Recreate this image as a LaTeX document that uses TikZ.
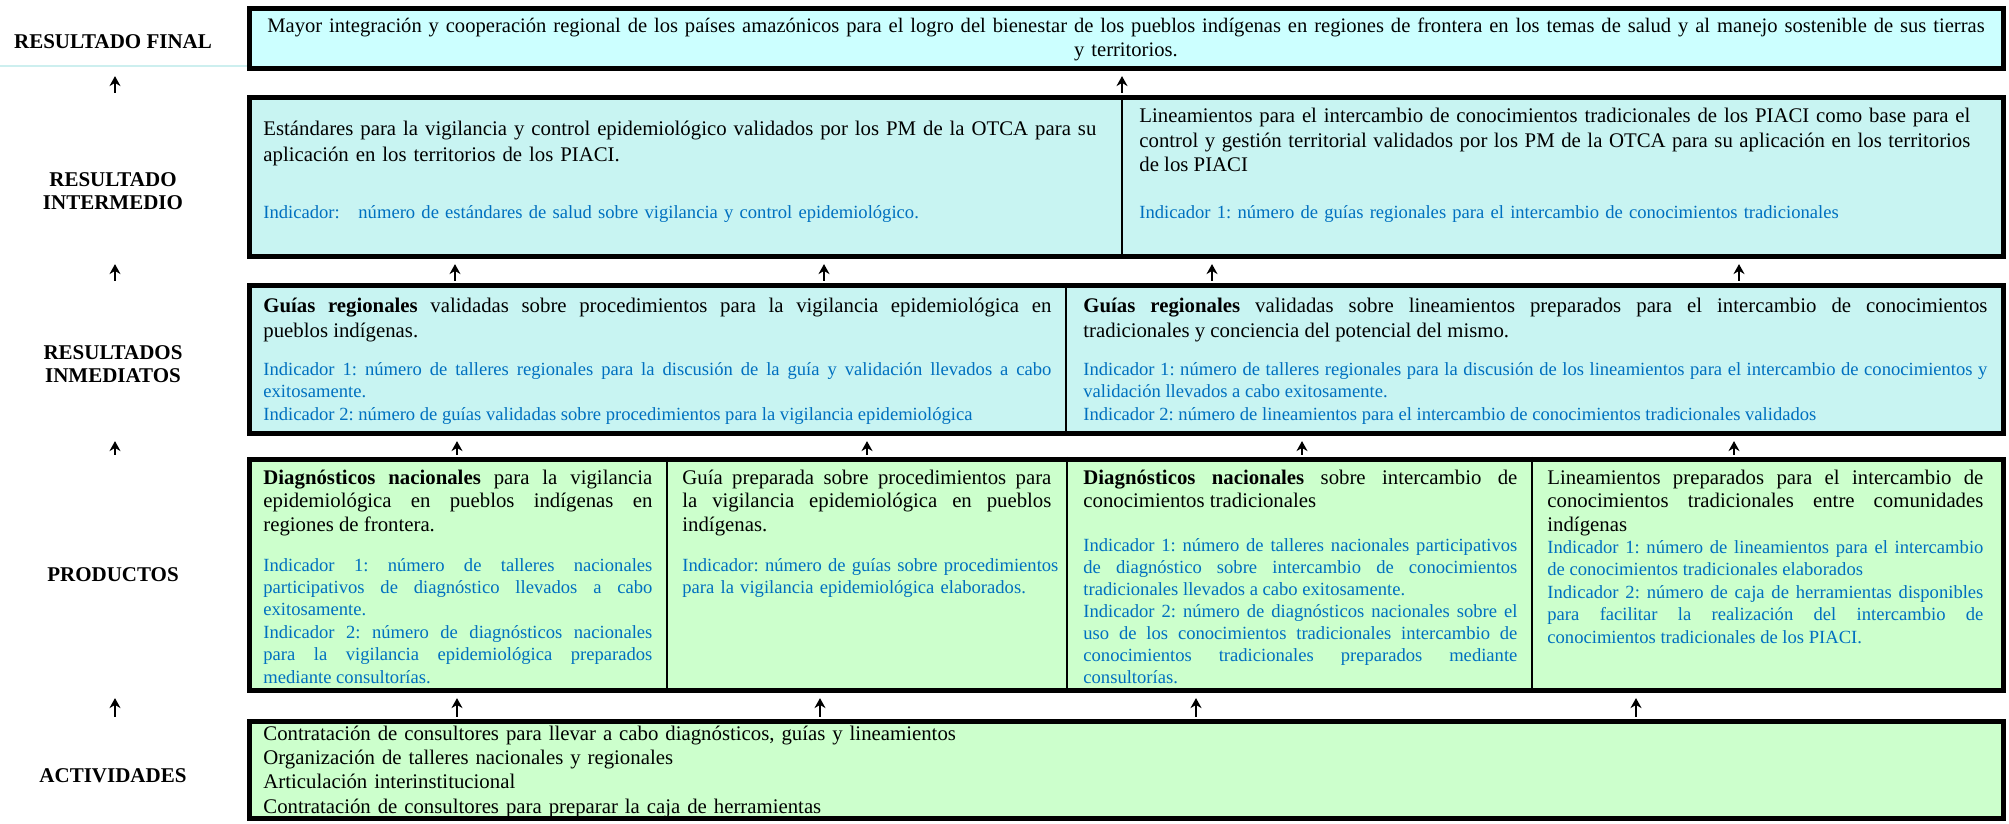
\documentclass[tikz,border=0pt]{standalone}
\usepackage{fontspec}
\setmainfont{Liberation Serif}
\usetikzlibrary{fit,arrows.meta}

\definecolor{finalcyan}{HTML}{CCFFFF}
\definecolor{resultcyan}{HTML}{C8F4F2}
\definecolor{prodgreen}{HTML}{CCFFCC}
\definecolor{indblue}{HTML}{0070C0}
\definecolor{faintcyan}{HTML}{CDEFEF}

\newcommand{\loosecell}{\frenchspacing\tolerance=10000\hyphenpenalty=10000\hbadness=10000}

\begin{document}
\begin{tikzpicture}[
    x = 0.5pt, y = -0.5pt,
    frame/.style = {
        draw,
        line width = 2.6pt,
        inner sep = 0pt
    },
    finalbox/.style = {frame, fill = finalcyan},
    resultbox/.style = {frame, fill = resultcyan},
    prodbox/.style = {frame, fill = prodgreen},
    divider/.style = {line width = 1.3pt},
    thindivider/.style = {line width = 1pt},
    arrow/.style = {-{Stealth[length = 5pt, width = 5.5pt]}, line width = 1.3pt,
        shorten < = 1pt, shorten > = 2.5pt},
    level/.style = {font = \fontsize{10.5}{11.5}\selectfont\bfseries, align = center},
    maintext/.style = {anchor = base west, inner sep = 0pt, align = justify,
        font = \fontsize{10.4}{12.3}\selectfont\loosecell},
    indtext/.style = {maintext, text = indblue,
        font = \fontsize{9.3}{11.2}\selectfont\loosecell}
]
\useasboundingbox (0,0) rectangle (2009,824);

% Level boxes
\node[finalbox, fit = {(249.5,8.5) (2003.5,68.5)}] (fin) {};
\node[resultbox, fit = {(249.5,97.5) (2003.5,256.5)}] (int) {};
\node[resultbox, fit = {(249.5,285.5) (2003.5,433.5)}] (inm) {};
\node[prodbox, fit = {(249.5,459.5) (2003.5,690.5)}] (prod) {};
\node[prodbox, fit = {(249.5,721.5) (2003.5,818.5)}] (act) {};

% Cell dividers
\draw[thindivider] (1122,0 |- int.north) -- (1122,0 |- int.south);
\draw[divider] (1066,0 |- inm.north) -- (1066,0 |- inm.south);
\draw[divider] (667,0 |- prod.north) -- (667,0 |- prod.south);
\draw[divider] (1067,0 |- prod.north) -- (1067,0 |- prod.south);
\draw[divider] (1532,0 |- prod.north) -- (1532,0 |- prod.south);

% Level labels
\draw[faintcyan, line width = 0.6pt] (0,66) -- (fin.west |- 0,66);
\node[level] (lbl-fin) at (113,42) {RESULTADO FINAL};
\node[level] (lbl-int) at (113,191) {RESULTADO\\INTERMEDIO};
\node[level] (lbl-inm) at (113,364) {RESULTADOS\\INMEDIATOS};
\node[level] (lbl-prod) at (113,575) {PRODUCTOS};
\node[level] (lbl-act) at (113,776) {ACTIVIDADES};

% Final result
\node[maintext, anchor = base, align = center, text width = 880pt,
    font = \fontsize{10.3}{12}\selectfont\frenchspacing] (fin-txt) at (1126,33) {Mayor integración y cooperación regional de los países amazónicos para el logro del bienestar de los pueblos indígenas en regiones de frontera en los temas de salud y al manejo sostenible de sus tierras\\y territorios.};

% Intermediate results
\node[maintext, align = left, text width = 430pt,
    font = \fontsize{10.4}{13}\selectfont\loosecell] (int1-txt) at (263,136) {Estándares para la vigilancia y control epidemiológico validados por los PM de la OTCA para su\\aplicación en los territorios de los PIACI.};
\node[indtext, align = left, text width = 430pt] (int1-ind) at (263,219) {Indicador:\ \ \ número de estándares de salud sobre vigilancia y control epidemiológico.};
\node[maintext, text width = 415.5pt,
    font = \fontsize{10.4}{12.25}\selectfont\loosecell] (int2-txt) at (1139,123) {Lineamientos para el intercambio de conocimientos tradicionales de los PIACI como base para el\linebreak control y gestión territorial validados por los PM de la OTCA para su aplicación en los territorios\linebreak de los PIACI};
\node[indtext, align = left, text width = 430pt] (int2-ind) at (1139,219) {Indicador 1: número de guías regionales para el intercambio de conocimientos tradicionales};

% Immediate results
\node[maintext, text width = 394pt,
    font = \fontsize{10.4}{12.5}\selectfont\loosecell] (inm1-txt) at (263,312) {\textbf{Guías regionales} validadas sobre procedimientos para la vigilancia epidemiológica en\linebreak pueblos indígenas.};
\node[indtext, text width = 394pt,
    font = \fontsize{9.3}{11.25}\selectfont\loosecell] (inm1-ind) at (263,375) {Indicador 1: número de talleres regionales para la discusión de la guía y validación llevados a cabo\linebreak exitosamente.\\Indicador 2: número de guías validadas sobre procedimientos para la vigilancia epidemiológica};
\node[maintext, text width = 452pt,
    font = \fontsize{10.4}{12.5}\selectfont\loosecell] (inm2-txt) at (1083,312) {\textbf{Guías regionales} validadas sobre lineamientos preparados para el intercambio de conocimientos\linebreak tradicionales y conciencia del potencial del mismo.};
\node[indtext, text width = 452pt,
    font = \fontsize{9.3}{11.25}\selectfont\loosecell] (inm2-ind) at (1083,375) {Indicador 1: número de talleres regionales para la discusión de los lineamientos para el intercambio de conocimientos y\linebreak validación llevados a cabo exitosamente.\\Indicador 2: número de lineamientos para el intercambio de conocimientos tradicionales validados};

% Products
\node[maintext, text width = 194.5pt,
    font = \fontsize{10.4}{11.75}\selectfont\loosecell] (prod1-txt) at (263,484) {\textbf{Diagnósticos nacionales} para la vigilancia\linebreak epidemiológica en pueblos indígenas en\linebreak regiones de frontera.};
\node[indtext, text width = 194.5pt] (prod1-ind) at (263,571) {Indicador 1: número de talleres nacionales\linebreak participativos de diagnóstico llevados a cabo\linebreak exitosamente.\\Indicador 2: número de diagnósticos nacionales\linebreak para la vigilancia epidemiológica preparados\linebreak mediante consultorías.};
\node[maintext, text width = 184.5pt,
    font = \fontsize{10.4}{11.75}\selectfont\loosecell] (prod2-txt) at (682,484) {Guía preparada sobre procedimientos para\linebreak la vigilancia epidemiológica en pueblos\linebreak indígenas.};
\node[indtext, align = left, text width = 192pt] (prod2-ind) at (682,571) {Indicador: número de guías sobre procedimientos\\para la vigilancia epidemiológica elaborados.};
\node[maintext, text width = 217pt,
    font = \fontsize{10.4}{11.75}\selectfont\loosecell] (prod3-txt) at (1083,484) {\textbf{Diagnósticos nacionales} sobre intercambio de\linebreak conocimientos tradicionales};
\node[indtext, text width = 217pt,
    font = \fontsize{9.3}{11}\selectfont\loosecell] (prod3-ind) at (1083,551) {Indicador 1: número de talleres nacionales participativos\linebreak de diagnóstico sobre intercambio de conocimientos\linebreak tradicionales llevados a cabo exitosamente.\\Indicador 2: número de diagnósticos nacionales sobre el\linebreak uso de los conocimientos tradicionales intercambio de\linebreak conocimientos tradicionales preparados mediante\linebreak consultorías.};
\node[maintext, text width = 218pt,
    font = \fontsize{10.4}{11.75}\selectfont\loosecell] (prod4-txt) at (1547,484) {Lineamientos preparados para el intercambio de\linebreak conocimientos tradicionales entre comunidades\linebreak indígenas};
\node[indtext, text width = 218pt,
    font = \fontsize{9.3}{11.25}\selectfont\loosecell] (prod4-ind) at (1547,553) {Indicador 1: número de lineamientos para el intercambio\linebreak de conocimientos tradicionales elaborados\\Indicador 2: número de caja de herramientas disponibles\linebreak para facilitar la realización del intercambio de\linebreak conocimientos tradicionales de los PIACI.};

% Activities
\node[maintext, align = left, text width = 800pt,
    font = \fontsize{10.4}{12.2}\selectfont\loosecell] (act-txt) at (263,740) {Contratación de consultores para llevar a cabo diagnósticos, guías y lineamientos\\Organización de talleres nacionales y regionales\\Articulación interinstitucional\\Contratación de consultores para preparar la caja de herramientas};

% Arrows between levels
\draw[arrow] (115,0 |- int.north) -- (115,0 |- fin.south);
\draw[arrow] (1122,0 |- int.north) -- (1122,0 |- fin.south);

\draw[arrow] (115,0 |- inm.north) -- (115,0 |- int.south);
\draw[arrow] (455,0 |- inm.north) -- (455,0 |- int.south);
\draw[arrow] (824,0 |- inm.north) -- (824,0 |- int.south);
\draw[arrow] (1212,0 |- inm.north) -- (1212,0 |- int.south);
\draw[arrow] (1739,0 |- inm.north) -- (1739,0 |- int.south);

\draw[arrow] (115,0 |- prod.north) -- (115,0 |- inm.south);
\draw[arrow] (457,0 |- prod.north) -- (457,0 |- inm.south);
\draw[arrow] (867,0 |- prod.north) -- (867,0 |- inm.south);
\draw[arrow] (1302,0 |- prod.north) -- (1302,0 |- inm.south);
\draw[arrow] (1734,0 |- prod.north) -- (1734,0 |- inm.south);

\draw[arrow] (115,0 |- act.north) -- (115,0 |- prod.south);
\draw[arrow] (457,0 |- act.north) -- (457,0 |- prod.south);
\draw[arrow] (820,0 |- act.north) -- (820,0 |- prod.south);
\draw[arrow] (1196,0 |- act.north) -- (1196,0 |- prod.south);
\draw[arrow] (1636,0 |- act.north) -- (1636,0 |- prod.south);

\end{tikzpicture}
\end{document}
